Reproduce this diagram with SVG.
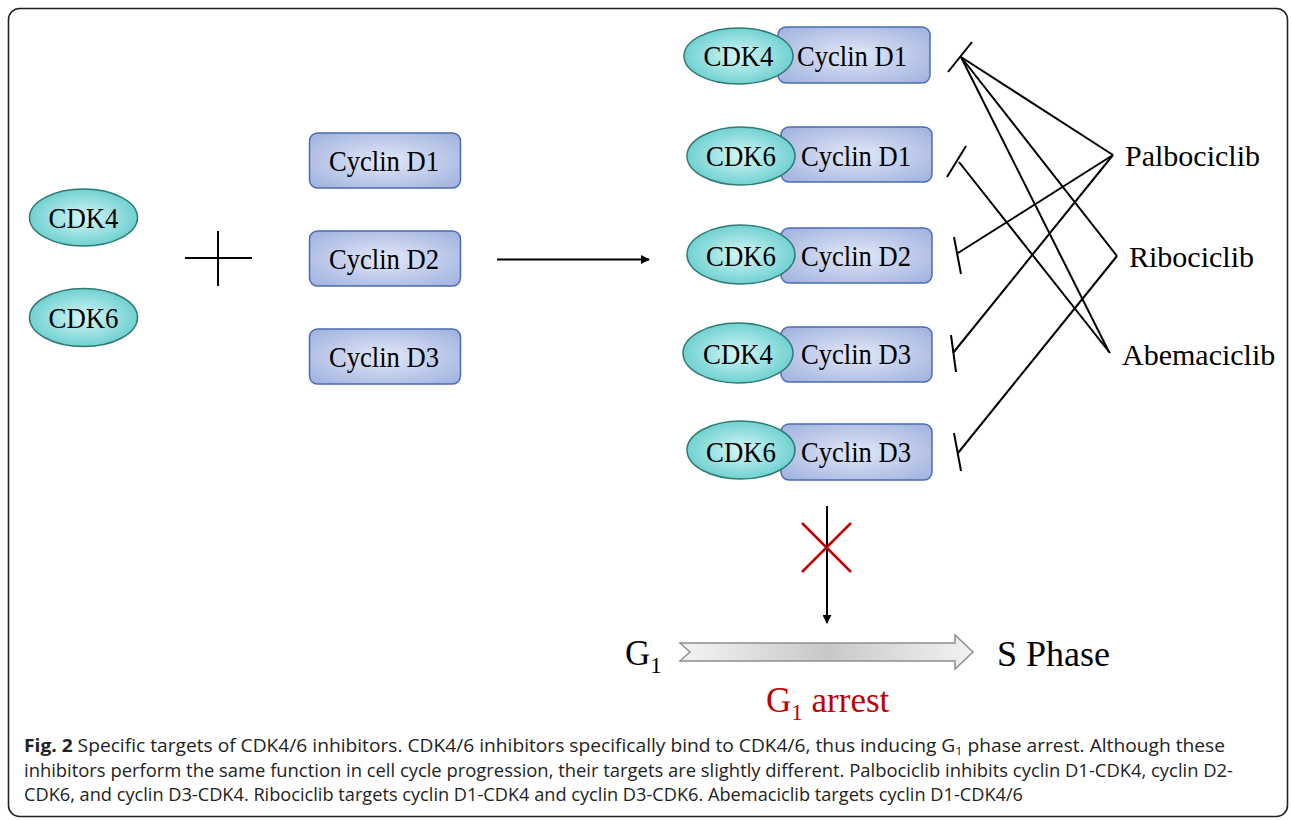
<svg xmlns="http://www.w3.org/2000/svg" width="1292" height="820" viewBox="0 0 1292 820">
  <defs>
    <radialGradient id="cdkFill" cx="0.5" cy="0.5" r="0.6">
      <stop offset="0" stop-color="#d6f6f6"/>
      <stop offset="1" stop-color="#5ccaca"/>
    </radialGradient>
    <radialGradient id="cycFill" cx="0.5" cy="0.5" r="0.65">
      <stop offset="0" stop-color="#e2e8f7"/>
      <stop offset="1" stop-color="#a3b4e0"/>
    </radialGradient>
    <linearGradient id="phaseFill" x1="0" y1="0" x2="1" y2="0">
      <stop offset="0" stop-color="#f4f4f7"/>
      <stop offset="0.5" stop-color="#c9c7ca"/>
      <stop offset="1" stop-color="#f2f2f5"/>
    </linearGradient>
    <marker id="arrowHead" viewBox="0 0 10 10" refX="9" refY="5" markerWidth="4.5" markerHeight="4.5" orient="auto" markerUnits="strokeWidth">
      <path d="M0,0 L10,5 L0,10 z" fill="#000"/>
    </marker>
  </defs>
  <style>
    .cdk { fill: url(#cdkFill); stroke: #2f7a72; stroke-width: 1.5; }
    .cyc { fill: url(#cycFill); stroke: #4a6cb4; stroke-width: 1.5; }
    .lbl { font-family: "Liberation Serif", "Times New Roman", serif; font-size: 29px; fill: #000; text-anchor: middle; }
    .drug { font-family: "Liberation Serif", "Times New Roman", serif; font-size: 30px; fill: #000; }
    .big { font-family: "Liberation Serif", "Times New Roman", serif; font-size: 35px; fill: #000; }
    .edge { stroke: #000; stroke-width: 2; fill: none; }
    .cap { font-family: "Open Sans", "Liberation Sans", sans-serif; font-size: 17.5px; fill: #222; }
  </style>

  <!-- outer frame -->
  <rect x="8.5" y="8.5" width="1279" height="808" rx="11" fill="#fff" stroke="#222" stroke-width="1.6"/>

  <!-- free kinases -->
  <g id="cdk4-free">
    <ellipse class="cdk" cx="83.5" cy="217.5" rx="54" ry="28.5"/>
    <text class="lbl" x="83.5" y="227.5" textLength="70" lengthAdjust="spacingAndGlyphs">CDK4</text>
  </g>
  <g id="cdk6-free">
    <ellipse class="cdk" cx="83.5" cy="317.5" rx="54" ry="29"/>
    <text class="lbl" x="83.5" y="327.5" textLength="70" lengthAdjust="spacingAndGlyphs">CDK6</text>
  </g>

  <!-- free cyclins -->
  <g id="cyclin-d1">
    <rect class="cyc" x="309.5" y="133" width="151" height="55" rx="8"/>
    <text class="lbl" x="384" y="171" textLength="110" lengthAdjust="spacingAndGlyphs">Cyclin D1</text>
  </g>
  <g id="cyclin-d2">
    <rect class="cyc" x="309.5" y="231" width="151" height="55" rx="8"/>
    <text class="lbl" x="384" y="269" textLength="110" lengthAdjust="spacingAndGlyphs">Cyclin D2</text>
  </g>
  <g id="cyclin-d3">
    <rect class="cyc" x="309.5" y="329" width="151" height="55" rx="8"/>
    <text class="lbl" x="384" y="367" textLength="110" lengthAdjust="spacingAndGlyphs">Cyclin D3</text>
  </g>

  <!-- plus sign -->
  <g id="plus">
    <line class="edge" x1="185" y1="258" x2="252" y2="258"/>
    <line class="edge" x1="218" y1="231" x2="218" y2="286"/>
  </g>

  <!-- complexes -->
  <g id="complex-d1-cdk4">
    <rect class="cyc" x="778" y="27" width="152" height="56" rx="8"/>
    <ellipse class="cdk" cx="738.5" cy="56" rx="54.5" ry="28"/>
    <text class="lbl" x="738.5" y="66" textLength="70" lengthAdjust="spacingAndGlyphs">CDK4</text>
    <text class="lbl" x="852" y="66" textLength="110" lengthAdjust="spacingAndGlyphs">Cyclin D1</text>
  </g>
  <g id="complex-d1-cdk6">
    <rect class="cyc" x="781" y="127" width="151" height="55" rx="8"/>
    <ellipse class="cdk" cx="741" cy="156" rx="54" ry="29"/>
    <text class="lbl" x="741" y="165.5" textLength="70" lengthAdjust="spacingAndGlyphs">CDK6</text>
    <text class="lbl" x="856" y="165.5" textLength="110" lengthAdjust="spacingAndGlyphs">Cyclin D1</text>
  </g>
  <g id="complex-d2-cdk6">
    <rect class="cyc" x="781" y="228" width="151" height="55" rx="8"/>
    <ellipse class="cdk" cx="741" cy="254.5" rx="54" ry="29.5"/>
    <text class="lbl" x="741" y="266" textLength="70" lengthAdjust="spacingAndGlyphs">CDK6</text>
    <text class="lbl" x="856" y="266" textLength="110" lengthAdjust="spacingAndGlyphs">Cyclin D2</text>
  </g>
  <g id="complex-d3-cdk4">
    <rect class="cyc" x="781" y="327" width="151" height="55" rx="8"/>
    <ellipse class="cdk" cx="738" cy="353" rx="55" ry="30"/>
    <text class="lbl" x="738" y="364" textLength="70" lengthAdjust="spacingAndGlyphs">CDK4</text>
    <text class="lbl" x="856" y="364" textLength="110" lengthAdjust="spacingAndGlyphs">Cyclin D3</text>
  </g>
  <g id="complex-d3-cdk6">
    <rect class="cyc" x="781" y="424" width="151" height="56" rx="8"/>
    <ellipse class="cdk" cx="741" cy="450" rx="54" ry="29"/>
    <text class="lbl" x="741" y="462" textLength="70" lengthAdjust="spacingAndGlyphs">CDK6</text>
    <text class="lbl" x="856" y="462" textLength="110" lengthAdjust="spacingAndGlyphs">Cyclin D3</text>
  </g>

  <!-- inhibitors -->
  <g id="palbociclib"><text class="drug" x="1125" y="166">Palbociclib</text></g>
  <g id="ribociclib"><text class="drug" x="1129" y="267">Ribociclib</text></g>
  <g id="abemaciclib"><text class="drug" x="1122" y="365">Abemaciclib</text></g>

  <!-- phase transition -->
  <g id="g1">
    <text class="big" x="625" y="665">G<tspan font-size="23" dy="8">1</tspan></text>
  </g>
  <g id="s-phase">
    <text class="big" x="997" y="666" textLength="113" lengthAdjust="spacingAndGlyphs">S Phase</text>
  </g>
  <g id="g1-arrest">
    <text class="big" x="766" y="712" style="fill:#c00000">G<tspan font-size="23" dy="8">1</tspan><tspan dy="-8"> arrest</tspan></text>
  </g>

  <!-- connectors -->
  <g id="connectors">
    <!-- binding arrow -->
    <line class="edge" x1="497" y1="259.5" x2="649" y2="259.5" marker-end="url(#arrowHead)"/>

    <!-- inhibition lines -->
    <line class="edge" x1="961" y1="57" x2="1113" y2="155"/>
    <line class="edge" x1="961" y1="57" x2="1117" y2="256"/>
    <line class="edge" x1="961" y1="57" x2="1109" y2="352"/>
    <line class="edge" x1="959" y1="162" x2="1110" y2="353"/>
    <line class="edge" x1="958" y1="253" x2="1113" y2="155"/>
    <line class="edge" x1="953" y1="353" x2="1113" y2="155"/>
    <line class="edge" x1="958" y1="453" x2="1117" y2="256"/>

    <!-- blunt ends -->
    <line class="edge" x1="948" y1="72" x2="972" y2="42"/>
    <line class="edge" x1="947" y1="177" x2="966" y2="146"/>
    <line class="edge" x1="954" y1="237" x2="961" y2="274"/>
    <line class="edge" x1="951" y1="335" x2="956" y2="372"/>
    <line class="edge" x1="954" y1="433" x2="961" y2="471"/>

    <!-- blocked progression -->
    <line class="edge" x1="827" y1="506" x2="827" y2="623" stroke-width="1.8" marker-end="url(#arrowHead)"/>
    <line x1="802" y1="523" x2="851" y2="572" stroke="#c00000" stroke-width="2.5"/>
    <line x1="851" y1="523" x2="802" y2="572" stroke="#c00000" stroke-width="2.5"/>

    <!-- G1 to S block arrow -->
    <path d="M680,643 L955,643 L955,635 L973,652 L955,669 L955,661 L680,661 L690,652 Z" fill="url(#phaseFill)" stroke="#8f8f8f" stroke-width="1.5"/>
  </g>

  <!-- caption -->
  <text class="cap" x="24" y="752" textLength="1201" lengthAdjust="spacingAndGlyphs"><tspan font-weight="bold">Fig. 2</tspan> Specific targets of CDK4/6 inhibitors. CDK4/6 inhibitors specifically bind to CDK4/6, thus inducing G<tspan font-size="11.5" dy="3">1</tspan><tspan dy="-3"> phase arrest. Although these</tspan></text>
  <text class="cap" x="24" y="777" textLength="1209" lengthAdjust="spacingAndGlyphs">inhibitors perform the same function in cell cycle progression, their targets are slightly different. Palbociclib inhibits cyclin D1-CDK4, cyclin D2-</text>
  <text class="cap" x="24" y="801" textLength="999" lengthAdjust="spacingAndGlyphs">CDK6, and cyclin D3-CDK4. Ribociclib targets cyclin D1-CDK4 and cyclin D3-CDK6. Abemaciclib targets cyclin D1-CDK4/6</text>
</svg>
